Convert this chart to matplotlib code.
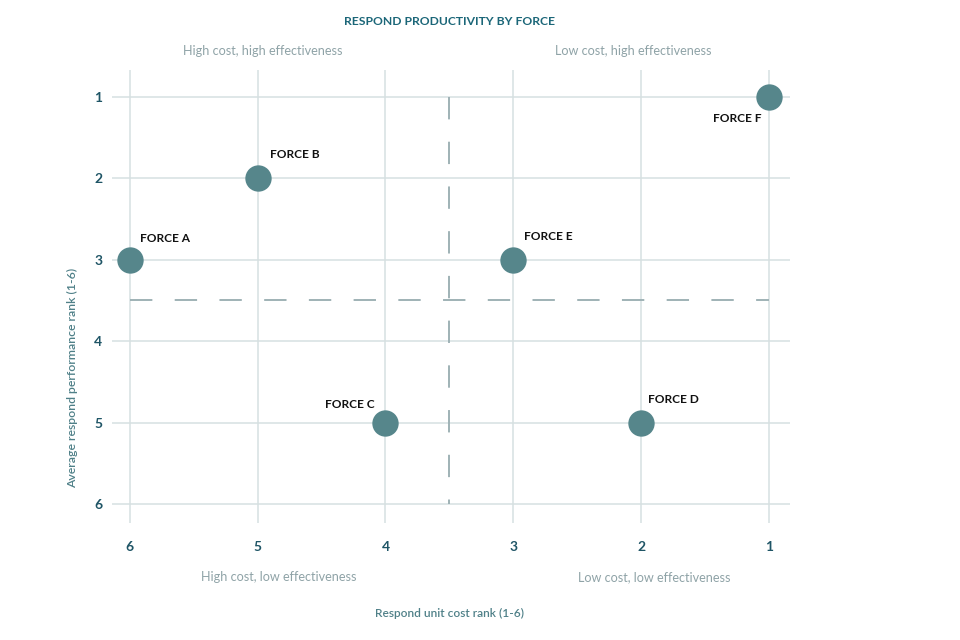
import matplotlib
matplotlib.use('Agg')
import matplotlib.pyplot as plt
from matplotlib.ticker import FixedLocator

plt.rcParams.update({
    "font.family": ["Lato", "DejaVu Sans"],
    "font.size": 10,
})

# Data
forces = ['FORCE A', 'FORCE B', 'FORCE C', 'FORCE D', 'FORCE E', 'FORCE F']
cost_rank = [6, 5, 4, 2, 3, 1]
perf_rank = [3, 2, 5, 5, 3, 1]
cost_split = 3.5
perf_split = 3.5
ranks = [1, 2, 3, 4, 5, 6]

# label offsets in points (dx, dy, ha)
offsets = {
    'FORCE A': (7, 15, 'left'),
    'FORCE B': (9, 17, 'left'),
    'FORCE C': (-8, 13, 'right'),
    'FORCE D': (5, 17, 'left'),
    'FORCE E': (8, 17, 'left'),
    'FORCE F': (-5, -16, 'right'),
}

point_col = '#56868b'
grid_col = '#d6e0e1'
dash_col = '#9fb2b6'
tick_col = '#1f5566'
title_col = '#1b6678'
quad_col = '#8fa3a7'
label_col = '#4f8088'

fig = plt.figure(figsize=(9.6, 6.4), dpi=100)
ax = fig.add_axes([0.1167, 0.183, 0.706, 0.708])

ax.set_xlim(6.14, 0.836)
ax.set_ylim(6.23, 0.67)

ax.xaxis.set_major_locator(FixedLocator(ranks))
ax.yaxis.set_major_locator(FixedLocator(ranks))
ax.grid(True, color=grid_col, linewidth=1.1)
ax.set_axisbelow(True)
for s in ax.spines.values():
    s.set_visible(False)
ax.tick_params(length=0, labelcolor=tick_col, labelsize=10)
ax.tick_params(axis='x', pad=13)
ax.tick_params(axis='y', pad=7)
for lab in ax.get_xticklabels() + ax.get_yticklabels():
    lab.set_fontweight('bold')

# quadrant dividers
ax.plot([max(cost_rank), min(cost_rank)], [perf_split, perf_split],
        color=dash_col, linewidth=1.4, dashes=(11.5, 11.5))
ax.plot([cost_split, cost_split], [min(perf_rank), 6],
        color=dash_col, linewidth=1.4, dashes=(11.5, 11.5))

ax.scatter(cost_rank, perf_rank, s=360, color=point_col, zorder=3, linewidths=0)

for name, x, y in zip(forces, cost_rank, perf_rank):
    dx, dy, ha = offsets[name]
    ax.annotate(name, (x, y), xytext=(dx, dy), textcoords='offset points',
                ha=ha, va='center', fontsize=8.6, fontweight='bold', color='#111111')

fig.text(0.468, 0.967, 'RESPOND PRODUCTIVITY BY FORCE', ha='center', va='center',
         fontsize=8.7, fontweight='bold', color=title_col)
fig.text(0.274, 0.920, 'High cost, high effectiveness', ha='center', va='center',
         fontsize=9.1, color=quad_col)
fig.text(0.660, 0.920, 'Low cost, high effectiveness', ha='center', va='center',
         fontsize=9.1, color=quad_col)
fig.text(0.290, 0.098, 'High cost, low effectiveness', ha='center', va='center',
         fontsize=9.1, color=quad_col)
fig.text(0.681, 0.098, 'Low cost, low effectiveness', ha='center', va='center',
         fontsize=9.1, color=quad_col)
fig.text(0.468, 0.042, 'Respond unit cost rank (1-6)', ha='center', va='center',
         fontsize=8.6, fontweight='semibold', color=label_col)
fig.text(0.075, 0.41, 'Average respond performance rank (1-6)', ha='center', va='center',
         rotation=90, fontsize=8.8, fontweight='semibold', color=label_col)

fig.savefig('out.png', dpi=100)
